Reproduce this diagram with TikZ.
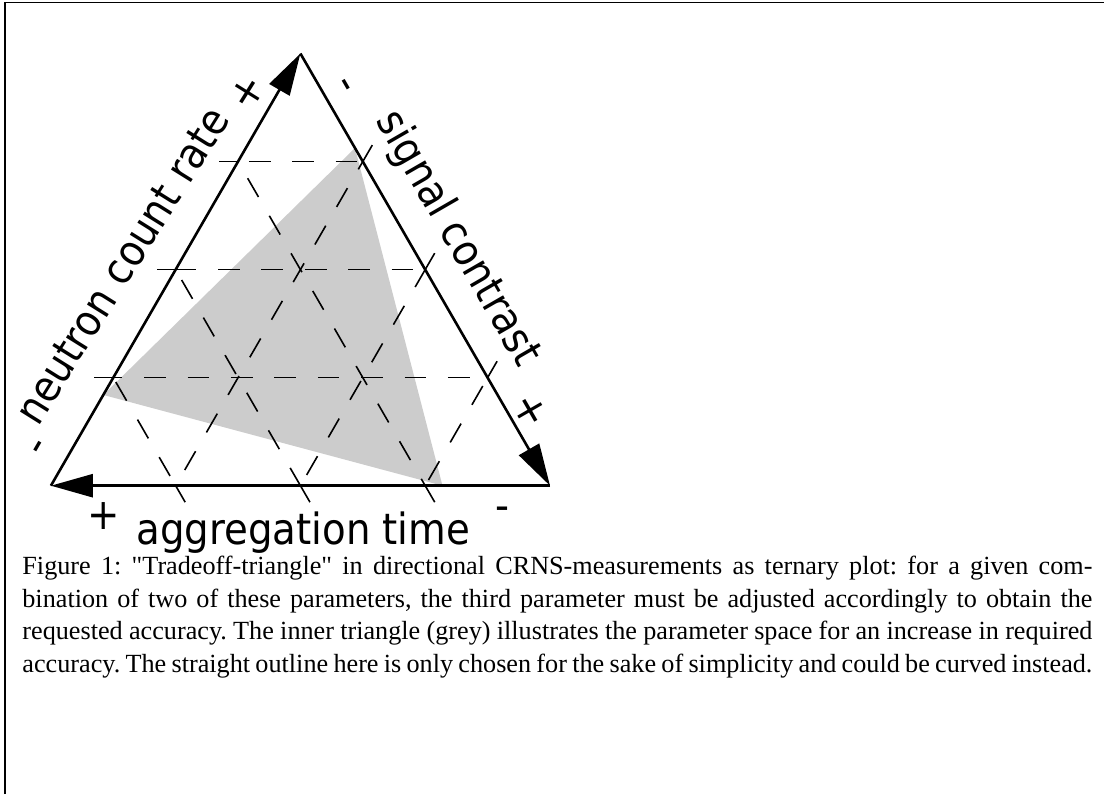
\documentclass[tikz,border=0pt]{standalone}
\usepackage{fontspec}
\setmainfont{Liberation Serif}[Ligatures=TeXOff]
\newfontfamily\lblfont{DejaVu Sans}[FakeStretch=0.9]
\usetikzlibrary{arrows.meta,calc}
\begin{document}
\begin{tikzpicture}[x=0.5pt,y=-0.5pt,
  side/.style={line width=1.3pt,-{Triangle[length=21pt,width=11.5pt]}},
  gridline/.style={line width=0.8pt,dash pattern=on 10.85pt off 10.85pt},
  gridext/.style={line width=0.8pt},
  lbl/.style={font=\lblfont\fontsize{21.5}{25}\selectfont,inner sep=0pt},
  ]
\useasboundingbox (0,0) rectangle (1104,794);
\draw[line width=0.6pt] (5,794) -- (5,2.7) -- (1104,2.7);

\coordinate (A) at (50.9,485.7);
\coordinate (B) at (550,485.7);
\coordinate (C) at (300.4,53.5);

% inner grey triangle
\fill[gray!40] ($(C)!0.2187!(B)$) -- ($(C)!0.79!(A)$) -- ($(A)!0.7846!(B)$) -- cycle;

% horizontal grid lines
\foreach \t/\ph in {0.25/16.3, 0.5/0.5, 0.75/6.25}{
  \coordinate (L) at ($(C)!\t!(A)$);
  \coordinate (R) at ($(C)!\t!(B)$);
  \draw[gridline,dash phase=\ph pt] (L) -- (R);
  \draw[gridext] (L) -- ($(L)!-9.5pt!(R)$);
}
% grid lines parallel to left side
\foreach \f/\ph in {0.25/12.65, 0.5/15.5, 0.75/18.4}{
  \pgfmathsetmacro\g{1-\f}
  \coordinate (P) at ($(A)!\f!(B)$);
  \coordinate (Q) at ($(B)!\g!(C)$);
  \draw[gridline,dash phase=\ph pt] (P) -- (Q);
  \draw[gridext] (Q) -- ($(Q)!-9.5pt!(P)$);
}
% grid lines parallel to right side
\foreach \f/\ph in {0.25/19.2, 0.5/15.7, 0.75/12.1}{
  \coordinate (S) at ($(A)!\f!(C)$);
  \coordinate (P) at ($(A)!\f!(B)$);
  \draw[gridline,dash phase=\ph pt] (S) -- (P);
  \draw[gridext] (P) -- ($(P)!-9.5pt!(S)$);
}

% outer triangle with arrows
\draw[side] (A) -- (C);
\draw[side] (C) -- (B);
\draw[side] (B) -- (A);

% labels
\node[lbl,rotate=58,anchor=base west] (ncr) at (38,428) {neutron count rate};
\node[lbl,rotate=58] (ncrp) at (248,93) {+};
\node[lbl,rotate=60] (ncrm) at (42,449) {-};
\node[lbl,rotate=-60,anchor=base] (sc) at (447,245) {signal contrast};
\node[lbl,rotate=-60] (scm) at (342,87) {-};
\node[lbl,rotate=-60] (scp) at (530,411) {+};
\node[lbl,anchor=base] (at) at (303.3,544.6) {aggregation time};
\node[lbl] (atp) at (103.5,516) {+};
\node[lbl] (atm) at (502,514) {-};

% caption
\node[anchor=north west,inner sep=0pt,text width=535pt,align=justify,
      font=\fontsize{13.1}{16.2}\selectfont] (cap) at (22,556)
 {\frenchspacing\parfillskip=0pt
 Figure 1: "Tradeoff-triangle" in directional CRNS-measurements as ternary plot: for a given com-\linebreak
 bination of two of these parameters, the third parameter must be adjusted accordingly to obtain the\linebreak
 requested accuracy. The inner triangle (grey) illustrates the parameter space for an increase in required\linebreak
 accuracy. The straight outline here is only chosen for the sake of simplicity and could be curved instead.};
\end{tikzpicture}
\end{document}
